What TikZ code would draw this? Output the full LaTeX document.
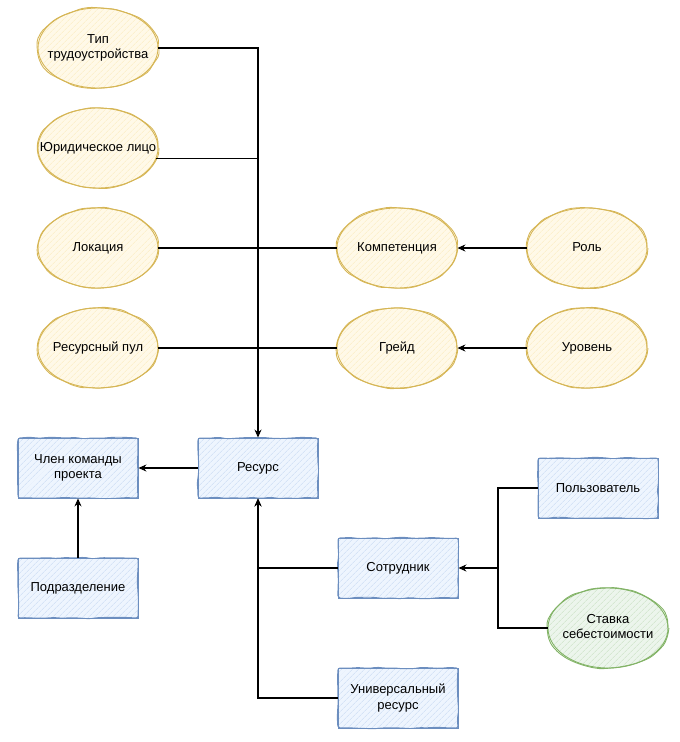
\documentclass[tikz,border=0pt]{standalone}
\usepackage{fontspec}
\setmainfont{Liberation Sans}
\usetikzlibrary{arrows.meta,patterns.meta,decorations.pathmorphing,shapes.geometric}
\definecolor{yfill}{HTML}{FFF2CC}
\definecolor{ydraw}{HTML}{D6B656}
\definecolor{bfill}{HTML}{DAE8FC}
\definecolor{bdraw}{HTML}{6C8EBF}
\definecolor{gfill}{HTML}{D5E8D4}
\definecolor{gdraw}{HTML}{82B366}
\newcommand{\lbl}[1]{\makebox[0pt][c]{\begin{tabular}{@{}c@{}}#1\end{tabular}}}
\tikzset{
  x=1pt,y=-1pt,
  sketch/.style={decorate,decoration={random steps,segment length=9pt,amplitude=0.8pt},rounded corners=2pt},
  basenode/.style={font=\fontsize{13}{15.5}\selectfont,align=center,inner sep=0pt,line width=0.9pt},
  yell/.style={basenode,ellipse,minimum width=120,minimum height=80,draw=ydraw,
    preaction={fill=yfill!45},
    preaction={pattern={Lines[angle=45,distance=4pt,line width=0.5pt]},pattern color=yfill!90!ydraw},
    postaction={draw=ydraw,sketch}},
  gell/.style={basenode,ellipse,minimum width=120,minimum height=80,draw=gdraw,
    preaction={fill=gfill!45},
    preaction={pattern={Lines[angle=45,distance=4pt,line width=0.5pt]},pattern color=gfill!85!gdraw},
    postaction={draw=gdraw,sketch}},
  blue/.style={basenode,rectangle,minimum width=120,minimum height=60,draw=bdraw,
    preaction={fill=bfill!45},
    preaction={pattern={Lines[angle=45,distance=4pt,line width=0.5pt]},pattern color=bfill!85!bdraw},
    postaction={draw=bdraw,sketch}},
  conn/.style={line width=1.1pt,black},
  arr/.style={conn,-{Stealth[length=8pt,width=7pt]}}
}
\begin{document}
\begin{tikzpicture}
\useasboundingbox (0,0) rectangle (680,742);
% ellipses
\node[yell] (tip) at (98,48) {\lbl{Тип\\трудоустройства}};
\node[yell] (jur) at (98,148) {\lbl{Юридическое лицо}};
\node[yell] (loc) at (98,248) {\lbl{Локация}};
\node[yell] (pool) at (98,348) {\lbl{Ресурсный пул}};
\node[yell] (komp) at (397,248) {\lbl{Компетенция}};
\node[yell] (role) at (587,248) {\lbl{Роль}};
\node[yell] (grade) at (397,348) {\lbl{Грейд}};
\node[yell] (level) at (587,348) {\lbl{Уровень}};
% boxes
\node[blue] (member) at (78,468) {Член команды\\проекта};
\node[blue] (res) at (258,468) {Ресурс};
\node[blue] (dept) at (78,588) {Подразделение};
\node[blue] (emp) at (398,568) {Сотрудник};
\node[blue] (user) at (598,488) {Пользователь};
\node[gell] (rate) at (608,628) {\lbl{Ставка\\себестоимости}};
\node[blue] (uni) at (398,698) {Универсальный\\ресурс};
\coordinate (jn) at (498,568);
% connectors
\draw[arr] (tip.east) -| (res.north);
\draw[conn] (jur.-10) -- (jur.-10 -| res.north);
\draw[conn] (loc.east) -- (komp.west);
\draw[conn] (pool.east) -- (grade.west);
\draw[arr] (role.west) -- (komp.east);
\draw[arr] (level.west) -- (grade.east);
\draw[arr] (res.west) -- (member.east);
\draw[arr] (dept.north) -- (member.south);
\draw[arr] (emp.west) -| (res.south);
\draw[arr] (uni.west) -| (res.south);
\draw[conn] (user.west) -| (jn);
\draw[conn] (rate.west) -| (jn);
\draw[arr] (jn) -- (emp.east);
\end{tikzpicture}
\end{document}
